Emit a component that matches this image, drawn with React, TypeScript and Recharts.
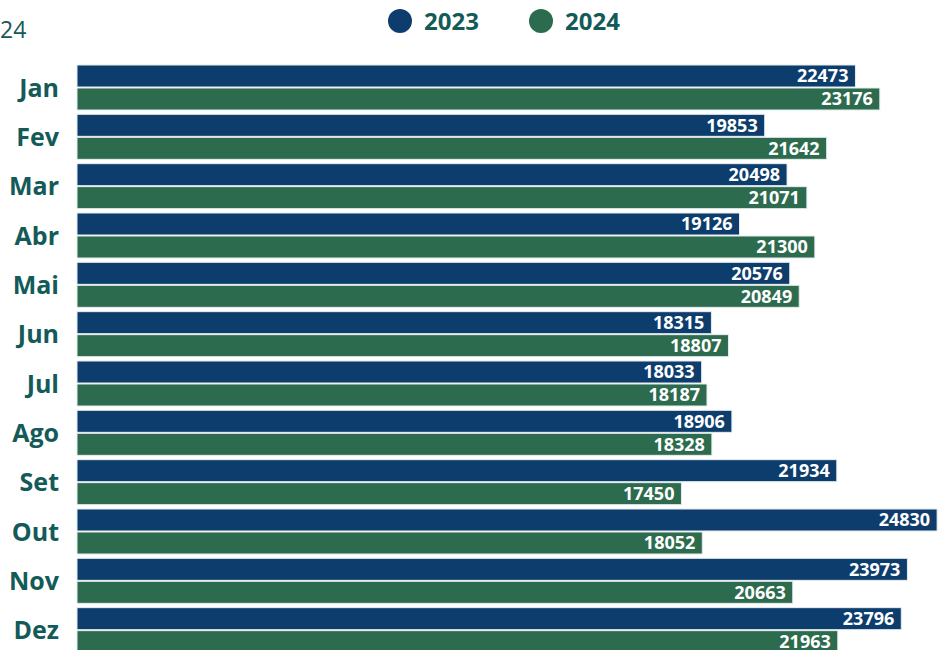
import { BarChart, Bar, XAxis, YAxis, Legend, LabelList } from 'recharts'

const MONTHS = ['Jan', 'Fev', 'Mar', 'Abr', 'Mai', 'Jun', 'Jul', 'Ago', 'Set', 'Out', 'Nov', 'Dez']
const VALUES_2023 = [22473, 19853, 20498, 19126, 20576, 18315, 18033, 18906, 21934, 24830, 23973, 23796]
const VALUES_2024 = [23176, 21642, 21071, 21300, 20849, 18807, 18187, 18328, 17450, 18052, 20663, 21963]

const BLUE = '#0d3d6d'
const GREEN = '#2c6b4d'
const TEXT = '#135a58'
const FONT = '"Open Sans", "Noto Sans", sans-serif'

const data = MONTHS.map((month, i) => ({
  month,
  y2023: VALUES_2023[i],
  y2024: VALUES_2024[i],
}))

function LegendContent() {
  const items = [
    { label: '2023', color: BLUE },
    { label: '2024', color: GREEN },
  ]
  return (
    <div style={{ display: 'flex', justifyContent: 'center', gap: 50, paddingLeft: 62, fontFamily: FONT, height: 24 }}>
      {items.map((item) => (
        <div key={item.label} style={{ display: 'flex', alignItems: 'center', gap: 12 }}>
          <span
            style={{
              width: 24,
              height: 24,
              borderRadius: '50%',
              background: item.color,
              display: 'inline-block',
            }}
          />
          <span style={{ fontSize: 24, fontWeight: 700, color: TEXT, lineHeight: '24px' }}>{item.label}</span>
        </div>
      ))}
    </div>
  )
}

export default function App() {
  return (
    <div
      style={{
        position: 'absolute',
        left: 0,
        top: 0,
        width: 946,
        height: 650,
        overflow: 'hidden',
        background: '#fff',
        fontFamily: FONT,
      }}
    >
      <div style={{ position: 'absolute', left: 0, top: 14, fontSize: 23, color: TEXT, lineHeight: '30px' }}>24</div>
      <BarChart
        width={946}
        height={655}
        data={data}
        layout="vertical"
        margin={{ top: 39, right: 3, bottom: 0, left: 0 }}
        barCategoryGap={2}
        barGap={1}
      >
        <XAxis type="number" domain={[0, 25000]} hide />
        <YAxis
          type="category"
          dataKey="month"
          width={77}
          axisLine={false}
          tickLine={false}
          tickSize={0}
          tickMargin={18}
          tick={{ fill: TEXT, fontSize: 25, fontWeight: 700, fontFamily: FONT }}
        />
        <Legend
          verticalAlign="top"
          align="center"
          content={<LegendContent />}
          wrapperStyle={{ top: 9, left: 0, width: 946 }}
        />
        <Bar dataKey="y2023" name="2023" fill={BLUE} stroke="#e6ecee" strokeWidth={1} isAnimationActive={false}>
          <LabelList
            dataKey="y2023"
            position="insideRight"
            offset={7}
            fill="#fff"
            style={{ fontSize: 18, fontWeight: 700, fontFamily: FONT }}
          />
        </Bar>
        <Bar dataKey="y2024" name="2024" fill={GREEN} stroke="#e6ecee" strokeWidth={1} isAnimationActive={false}>
          <LabelList
            dataKey="y2024"
            position="insideRight"
            offset={7}
            fill="#fff"
            style={{ fontSize: 18, fontWeight: 700, fontFamily: FONT }}
          />
        </Bar>
      </BarChart>
    </div>
  )
}
